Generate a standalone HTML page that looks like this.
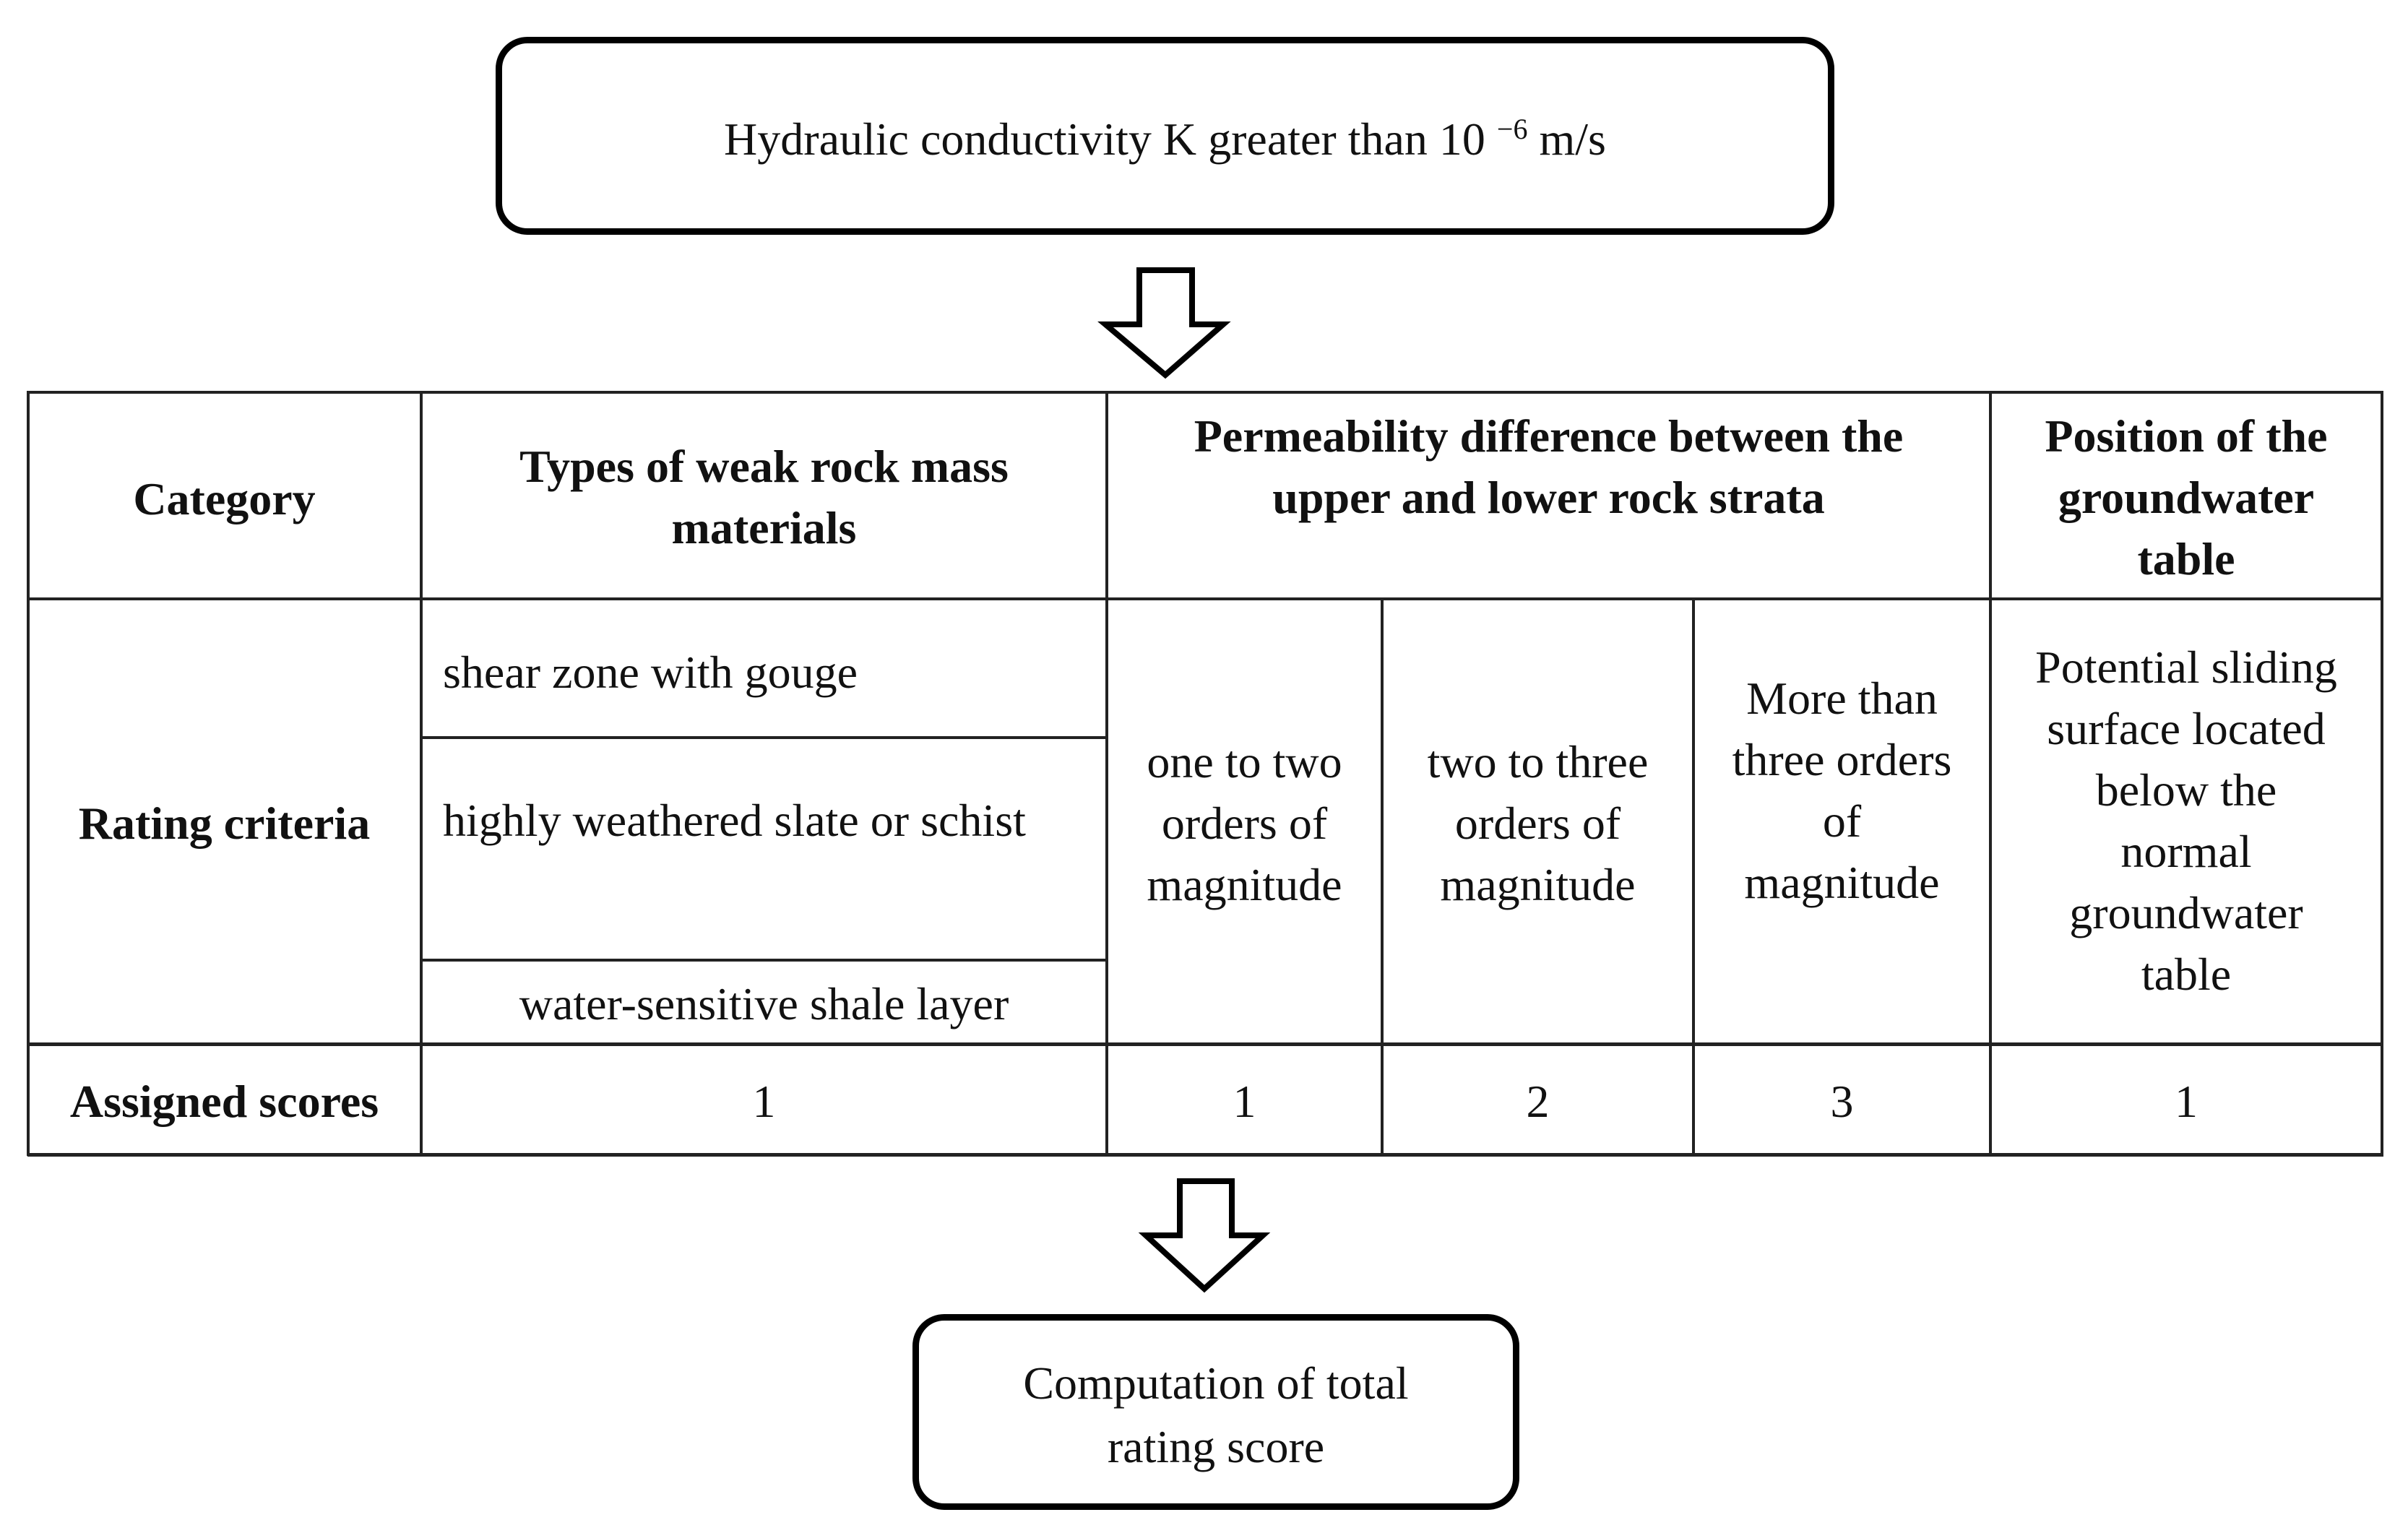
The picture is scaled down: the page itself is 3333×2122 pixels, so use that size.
<!DOCTYPE html>
<html><head><meta charset="utf-8"><style>
body{margin:0;width:3333px;height:2122px;background:#fff;position:relative;overflow:hidden;font-family:"Liberation Serif",serif;font-size:64px;color:#111}
.t{position:absolute;line-height:85px;text-align:center;white-space:nowrap}
.b{font-weight:bold}
.box{position:absolute;border:9px solid #000;border-radius:44px;box-sizing:border-box}
.l{position:absolute;background:#222}
</style></head><body>
<div class="box" style="left:686px;top:51px;width:1853px;height:274px"></div>
<div class="t" style="left:686px;width:1853px;top:150px">Hydraulic conductivity K greater than 10 <sup style="font-size:40px;vertical-align:22px;line-height:0">−6</sup> m/s</div>
<svg style="position:absolute;left:0;top:0" width="3333" height="2122">
<polygon points="1577,374 1650,374 1650,449 1693,449 1613,519 1530,449 1577,449" fill="#fff" stroke="#000" stroke-width="8" stroke-linejoin="miter"/>
<polygon points="1633,1635 1705,1635 1705,1710 1748,1710 1667,1784 1586,1710 1633,1710" fill="#fff" stroke="#000" stroke-width="8"/>
</svg>
<!-- table lines -->
<div class="l" style="left:38px;top:541px;width:3261px;height:4px"></div>
<div class="l" style="left:38px;top:827px;width:3261px;height:4px"></div>
<div class="l" style="left:38px;top:1443px;width:3261px;height:5px"></div>
<div class="l" style="left:38px;top:1596px;width:3261px;height:5px"></div>
<div class="l" style="left:583px;top:1019px;width:949px;height:4px"></div>
<div class="l" style="left:583px;top:1327px;width:949px;height:4px"></div>
<div class="l" style="left:37px;top:541px;width:4px;height:1059px"></div>
<div class="l" style="left:581px;top:541px;width:4px;height:1059px"></div>
<div class="l" style="left:1530px;top:541px;width:4px;height:1059px"></div>
<div class="l" style="left:1911px;top:827px;width:4px;height:773px"></div>
<div class="l" style="left:2342px;top:827px;width:4px;height:773px"></div>
<div class="l" style="left:2753px;top:541px;width:4px;height:1059px"></div>
<div class="l" style="left:3295px;top:541px;width:4px;height:1059px"></div>
<!-- header -->
<div class="t b" style="left:38px;width:545px;top:648px">Category</div>
<div class="t b" style="left:583px;width:949px;top:603px">Types of weak rock mass<br>materials</div>
<div class="t b" style="left:1532px;width:1223px;top:561px">Permeability difference between the<br>upper and lower rock strata</div>
<div class="t b" style="left:2755px;width:542px;top:561px">Position of the<br>groundwater<br>table</div>
<!-- rating -->
<div class="t b" style="left:38px;width:545px;top:1097px">Rating criteria</div>
<div class="t" style="left:613px;top:888px;text-align:left">shear zone with gouge</div>
<div class="t" style="left:613px;width:892px;top:1093px;text-align:justify;white-space:normal">highly weathered slate or schist</div>
<div class="t" style="left:583px;width:949px;top:1347px">water-sensitive shale layer</div>
<div class="t" style="left:1532px;width:381px;top:1012px">one to two<br>orders of<br>magnitude</div>
<div class="t" style="left:1913px;width:431px;top:1012px">two to three<br>orders of<br>magnitude</div>
<div class="t" style="left:2344px;width:411px;top:924px">More than<br>three orders<br>of<br>magnitude</div>
<div class="t" style="left:2755px;width:542px;top:881px">Potential sliding<br>surface located<br>below the<br>normal<br>groundwater<br>table</div>
<!-- scores -->
<div class="t b" style="left:38px;width:545px;top:1482px">Assigned scores</div>
<div class="t" style="left:583px;width:949px;top:1482px">1</div>
<div class="t" style="left:1532px;width:381px;top:1482px">1</div>
<div class="t" style="left:1913px;width:431px;top:1482px">2</div>
<div class="t" style="left:2344px;width:411px;top:1482px">3</div>
<div class="t" style="left:2755px;width:542px;top:1482px">1</div>
<!-- bottom -->
<div class="box" style="left:1263px;top:1819px;width:840px;height:271px"></div>
<div class="t" style="left:1263px;width:840px;top:1871px;line-height:88px">Computation of total<br>rating score</div>
</body></html>
